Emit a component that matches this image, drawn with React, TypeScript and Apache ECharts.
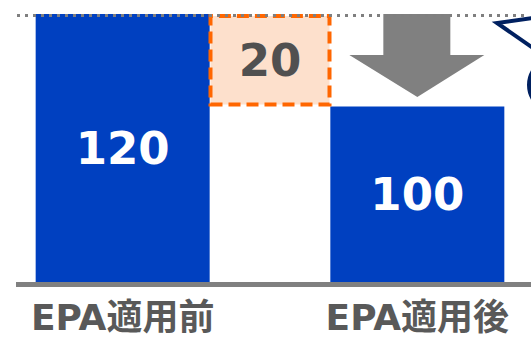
import React, { useEffect, useRef } from "react";
import * as echarts from "echarts";

const categories = ["EPA適用前", "", "EPA適用後"];
const mainValues: (number | string)[] = [120, "-", 100];
const diffBase: (number | string)[] = ["-", 100, "-"];
const diffValues: (number | string)[] = ["-", 20, "-"];
const yMin = 62;
const yMax = 120;

export default function App() {
  const ref = useRef<HTMLDivElement>(null);
  useEffect(() => {
    document.body.style.margin = "0";
    const chart = echarts.init(ref.current!, null, { renderer: "svg" });
    const latin = "'DejaVu Sans', 'Noto Sans CJK JP', sans-serif";
    chart.setOption({
      animation: false,
      grid: { left: 49, right: 40, top: 14, bottom: 57 },
      xAxis: [
        {
          type: "category",
          data: categories,
          axisLine: { show: false },
          axisTick: { show: false },
          axisLabel: {
            margin: 17,
            fontSize: 36,
            fontWeight: "bold",
            color: "#595959",
            fontFamily: latin,
            interval: 0,
          },
        },
        { type: "category", data: categories, show: false },
      ],
      yAxis: { type: "value", min: yMin, max: yMax, startValue: yMin, show: false },
      series: [
        {
          type: "bar",
          xAxisIndex: 0,
          data: mainValues,
          barWidth: 174,
          clip: false,
          itemStyle: { color: "#0040C0" },
          label: {
            show: true,
            position: "inside",
            color: "#ffffff",
            fontSize: 45,
            fontWeight: "bold",
            fontFamily: latin,
          },
        },
        {
          type: "bar",
          xAxisIndex: 1,
          stack: "diff",
          data: diffBase,
          barWidth: 123,
          itemStyle: { color: "transparent" },
          silent: true,
        },
        {
          type: "bar",
          xAxisIndex: 1,
          stack: "diff",
          data: diffValues,
          barWidth: 123,
          itemStyle: {
            color: "#FDE0CC",
            borderColor: "#FF6600",
            borderWidth: 4,
            borderType: [12, 6],
          },
          label: {
            show: true,
            position: "inside",
            color: "#505050",
            fontSize: 45,
            fontWeight: "bold",
            fontFamily: latin,
          },
        },
      ],
    });

    const yTop = chart.convertToPixel({ yAxisIndex: 0 }, yMax) as number;
    const yBottom = chart.convertToPixel({ yAxisIndex: 0 }, yMin) as number;
    const x2 = chart.convertToPixel({ xAxisIndex: 0 }, categories[2]) as number;
    const ax = x2;
    chart.setOption({
      graphic: [
        {
          type: "line",
          shape: { x1: 16, y1: yBottom + 2.5, x2: 531, y2: yBottom + 2.5 },
          style: { stroke: "#808080", lineWidth: 5 },
          z: 10,
        },
        {
          type: "line",
          shape: { x1: 17, y1: yTop + 1.5, x2: 524, y2: yTop + 1.5 },
          style: { stroke: "#7F7F7F", lineWidth: 3, lineDash: [3, 5] },
          z: 10,
        },
        {
          type: "polygon",
          shape: {
            points: [
              [ax - 34, yTop],
              [ax + 33, yTop],
              [ax + 33, yTop + 41],
              [ax + 67, yTop + 41],
              [ax, yTop + 83],
              [ax - 68, yTop + 41],
              [ax - 34, yTop + 41],
            ],
          },
          style: { fill: "#808080" },
          z: 9,
        },
        {
          type: "polyline",
          shape: { points: [[533, 18], [497, 23], [533, 48]] },
          style: { stroke: "#002060", lineWidth: 4, fill: null, lineJoin: "miter" },
          z: 10,
        },
        {
          type: "arc",
          shape: { cx: 556, cy: 85, r: 27, startAngle: Math.PI * 0.6, endAngle: Math.PI * 1.4 },
          style: { stroke: "#002060", lineWidth: 4, fill: null },
          z: 10,
        },
      ],
    });
    return () => chart.dispose();
  }, []);
  return <div ref={ref} style={{ width: 531, height: 339 }} />;
}
